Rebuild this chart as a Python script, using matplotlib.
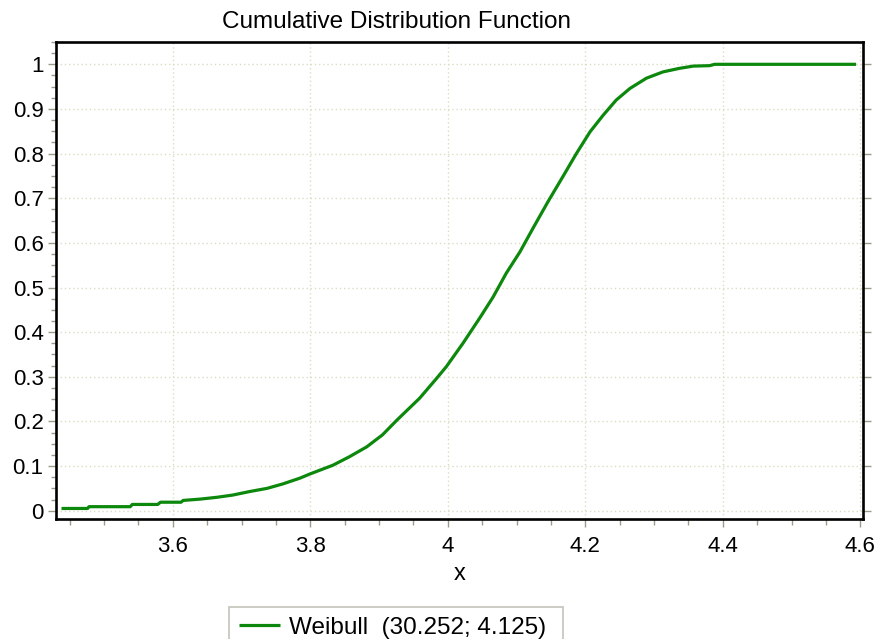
import numpy as np
import matplotlib.pyplot as plt
from matplotlib.ticker import MultipleLocator, FuncFormatter

plt.rcParams['font.family'] = ['Liberation Sans', 'DejaVu Sans']

# values (CDF of the fitted Weibull)
x_vals = [3.438, 3.476, 3.478, 3.538, 3.541, 3.578, 3.582, 3.612, 3.615, 3.640,
          3.664, 3.687, 3.712, 3.737, 3.760, 3.785, 3.799, 3.833, 3.857, 3.882,
          3.905, 3.926, 3.959, 3.984, 3.998, 4.022, 4.047, 4.066, 4.085, 4.105,
          4.124, 4.146, 4.168, 4.187, 4.207, 4.226, 4.245, 4.265, 4.289, 4.313,
          4.337, 4.357, 4.381, 4.388, 4.594]
cdf_vals = [0.005, 0.005, 0.009, 0.009, 0.014, 0.014, 0.019, 0.019, 0.023, 0.026,
            0.030, 0.035, 0.043, 0.050, 0.060, 0.073, 0.082, 0.102, 0.121, 0.143,
            0.170, 0.203, 0.252, 0.297, 0.323, 0.375, 0.433, 0.479, 0.532, 0.580,
            0.633, 0.693, 0.750, 0.800, 0.849, 0.886, 0.920, 0.946, 0.969, 0.983,
            0.991, 0.996, 0.997, 1.000, 1.000]
series_name = "Weibull  (30.252; 4.125)"
title = "Cumulative Distribution Function"
xlabel = "x"

W, H = 877, 639
fig = plt.figure(figsize=(W/100, H/100), dpi=100)
ax = fig.add_axes([56/W, 1-519/H, (863-56)/W, (519-42)/H])

ax.plot(x_vals, cdf_vals, color='#0c880c', lw=2.3, label=series_name, solid_capstyle='butt')

ax.set_xlim(3.43, 4.604)
ax.set_ylim(-0.0186, 1.05)

ax.xaxis.set_major_locator(MultipleLocator(0.2))
ax.xaxis.set_minor_locator(MultipleLocator(0.05))
ax.yaxis.set_major_locator(MultipleLocator(0.1))
ax.yaxis.set_minor_locator(MultipleLocator(0.025))
fmt = FuncFormatter(lambda v, p: '%g' % round(v, 3))
ax.xaxis.set_major_formatter(fmt)
ax.yaxis.set_major_formatter(fmt)

ax.grid(True, which='major', ls=(0, (1, 2)), color='#dcdcc4', lw=1)
tc = '#9a9a8a'
ax.tick_params(axis='x', which='major', length=6, width=1, color=tc, pad=6, labelsize=16)
ax.tick_params(axis='x', which='minor', length=4, width=1, color=tc)
ax.tick_params(axis='y', which='major', length=6, width=1, color=tc, pad=3, labelsize=16)
ax.tick_params(axis='y', which='minor', length=3.5, width=1, color=tc)
ax.tick_params(axis='y', which='major', right=True, direction='out')
for s in ax.spines.values():
    s.set_linewidth(1.9)
    s.set_color('black')

fig.text(397/W, 1-28/H, title, ha='center', va='baseline', fontsize=17.5)
fig.text(460/W, 1-580/H, xlabel, ha='center', va='baseline', fontsize=17)

leg = ax.legend(loc='upper left', bbox_to_anchor=(229/W, 1-607/H - 0.2, (563-229)/W, 0.2),
                bbox_transform=fig.transFigure, mode='expand', fontsize=17.5,
                frameon=True, fancybox=False, handlelength=1.7, handletextpad=0.35,
                borderpad=0.4, borderaxespad=0)
leg.get_frame().set_edgecolor('#b4b4aa')
leg.get_frame().set_linewidth(1.2)

plt.savefig('out.png', dpi=100)
